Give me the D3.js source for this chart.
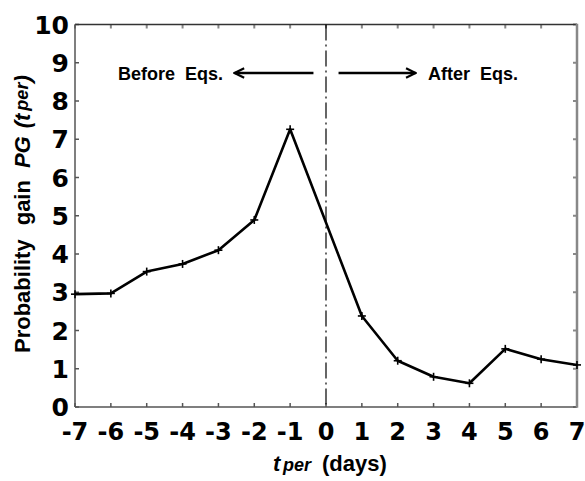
<!DOCTYPE html>
<html>
<head>
<meta charset="utf-8">
<script src="https://cdn.jsdelivr.net/npm/d3@7"></script>
<style>
  body { margin: 0; background: #fff; }
  svg { display: block; }
</style>
</head>
<body>
<svg id="chart"></svg>
<script>
// Probability gain per day relative to the earthquake (no sample at day 0)
const days = [-7, -6, -5, -4, -3, -2, -1, 1, 2, 3, 4, 5, 6, 7]
const gain = [2.95, 2.97, 3.54, 3.74, 4.1, 4.89, 7.26, 2.38, 1.21, 0.79, 0.62, 1.52, 1.25, 1.1]
const xTicks = [-7, -6, -5, -4, -3, -2, -1, 0, 1, 2, 3, 4, 5, 6, 7]
const yTicks = [0, 1, 2, 3, 4, 5, 6, 7, 8, 9, 10]

const WIDTH = 585
const HEIGHT = 481
const MARGIN = { top: 24.5, right: 8, bottom: 74, left: 75 }

const svg = d3.select("#chart").attr("width", WIDTH).attr("height", HEIGHT)

const x = d3.scaleLinear().domain([-7, 7]).range([MARGIN.left, WIDTH - MARGIN.right])
const y = d3.scaleLinear().domain([0, 10]).range([HEIGHT - MARGIN.bottom, MARGIN.top])

const [x0, x1] = x.range()
const [yb, yt] = y.range()

// inward ticks on all four sides
const tickColor = "#888"
const tickLen = 4
svg.append("g").selectAll("line").data(xTicks).join("line")
  .attr("x1", d => x(d)).attr("x2", d => x(d))
  .attr("y1", yb).attr("y2", yb - tickLen)
  .attr("stroke", "#555").attr("stroke-width", 1.5)
svg.append("g").selectAll("line").data(xTicks).join("line")
  .attr("x1", d => x(d)).attr("x2", d => x(d))
  .attr("y1", yt).attr("y2", yt + tickLen)
  .attr("stroke", tickColor).attr("stroke-width", 2)
svg.append("g").selectAll("line").data(yTicks).join("line")
  .attr("x1", x0).attr("x2", x0 + tickLen)
  .attr("y1", d => y(d)).attr("y2", d => y(d))
  .attr("stroke", "#555").attr("stroke-width", 1.5)
svg.append("g").selectAll("line").data(yTicks).join("line")
  .attr("x1", x1).attr("x2", x1 - tickLen)
  .attr("y1", d => y(d)).attr("y2", d => y(d))
  .attr("stroke", tickColor).attr("stroke-width", 2)

// frame: dark left/bottom/top, lighter right edge
svg.append("line").attr("x1", x0).attr("x2", x1).attr("y1", yt).attr("y2", yt)
  .attr("stroke", "#333").attr("stroke-width", 1.5)
svg.append("line").attr("x1", x0).attr("x2", x1).attr("y1", yb).attr("y2", yb)
  .attr("stroke", "#555").attr("stroke-width", 1.5)
svg.append("line").attr("x1", x0).attr("x2", x0).attr("y1", yt).attr("y2", yb)
  .attr("stroke", "#555").attr("stroke-width", 1.5)
svg.append("line").attr("x1", x1).attr("x2", x1).attr("y1", yt - 0.75).attr("y2", yb + 0.75)
  .attr("stroke", "#888").attr("stroke-width", 2.5)

// tick labels
svg.append("g").selectAll("text").data(yTicks).join("text")
  .attr("x", x0 - 6).attr("y", d => y(d) + 9)
  .attr("text-anchor", "end")
  .attr("font-family", "DejaVu Sans").attr("font-weight", "bold").attr("font-size", 25)
  .text(d => d)
svg.append("g").selectAll("text").data(xTicks).join("text")
  .attr("x", d => x(d)).attr("y", yb + 33)
  .attr("text-anchor", "middle")
  .attr("font-family", "DejaVu Sans").attr("font-weight", "bold").attr("font-size", 24)
  .text(d => d)

// dash-dot divider at day 0
svg.append("line")
  .attr("x1", x(0)).attr("x2", x(0)).attr("y1", yt).attr("y2", yb)
  .attr("stroke", "#000").attr("stroke-width", 1.2)
  .attr("stroke-dasharray", "16,4,2,4")

// data line with + markers
const line = d3.line().x((d, i) => x(days[i])).y(d => y(d))
svg.append("path").attr("d", line(gain))
  .attr("fill", "none").attr("stroke", "#000").attr("stroke-width", 2.6)
  .attr("stroke-linejoin", "round")
const marker = svg.append("g").attr("stroke", "#000").attr("stroke-width", 1.6)
gain.forEach((v, i) => {
  const cx = x(days[i]), cy = y(v)
  marker.append("line").attr("x1", cx - 4).attr("x2", cx + 4).attr("y1", cy).attr("y2", cy)
  marker.append("line").attr("x1", cx).attr("x2", cx).attr("y1", cy - 4).attr("y2", cy + 4)
})

// before / after annotations
const defs = svg.append("defs")
defs.append("marker").attr("id", "head")
  .attr("viewBox", "0 0 10 10").attr("refX", 9).attr("refY", 5)
  .attr("markerWidth", 5).attr("markerHeight", 5).attr("orient", "auto")
  .attr("markerUnits", "strokeWidth")
  .append("path").attr("d", "M1,1 L9,5 L1,9").attr("fill", "none").attr("stroke", "#000").attr("stroke-width", 1.8)

const annY = 73
svg.append("line").attr("x1", x(-0.35)).attr("x2", x(-2.55)).attr("y1", annY).attr("y2", annY)
  .attr("stroke", "#000").attr("stroke-width", 2.4).attr("marker-end", "url(#head)")
svg.append("line").attr("x1", x(0.35)).attr("x2", x(2.5)).attr("y1", annY).attr("y2", annY)
  .attr("stroke", "#000").attr("stroke-width", 2.4).attr("marker-end", "url(#head)")

svg.append("text").attr("x", 118).attr("y", annY + 7)
  .attr("font-family", "Liberation Sans").attr("font-weight", "bold").attr("font-size", 18)
  .attr("xml:space", "preserve")
  .text("Before  Eqs.")
svg.append("text").attr("x", 428).attr("y", annY + 7)
  .attr("font-family", "Liberation Sans").attr("font-weight", "bold").attr("font-size", 18)
  .attr("xml:space", "preserve")
  .text("After  Eqs.")

// axis titles
const xTitle = svg.append("text").attr("y", 471)
  .attr("font-family", "Liberation Sans").attr("font-weight", "bold").attr("font-size", 22)
xTitle.append("tspan").attr("x", 273).attr("font-style", "italic").text("t")
xTitle.append("tspan").attr("x", 283).attr("font-style", "italic").attr("font-size", 18).text("per")
xTitle.append("tspan").attr("x", 322).text("(days)")

const yTitle = svg.append("text")
  .attr("transform", "translate(30,353) rotate(-90)")
  .attr("font-family", "Liberation Sans").attr("font-weight", "bold").attr("font-size", 22)
yTitle.append("tspan").text("Probability")
yTitle.append("tspan").attr("dx", 14).text("gain")
yTitle.append("tspan").attr("dx", 12).attr("font-style", "italic").text("PG")
yTitle.append("tspan").attr("dx", 8).attr("font-style", "italic").text("(t")
yTitle.append("tspan").attr("dx", 3).attr("dy", -2).attr("font-style", "italic").attr("font-size", 18).text("per")
yTitle.append("tspan").attr("dy", 2).attr("font-style", "italic").text(")")
</script>
</body>
</html>
